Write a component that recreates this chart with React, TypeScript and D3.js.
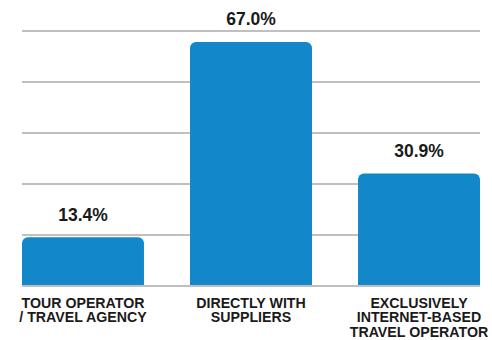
import React from "react";
import * as d3 from "d3";

const categories = ["TOUR OPERATOR\n/ TRAVEL AGENCY", "DIRECTLY WITH\nSUPPLIERS", "EXCLUSIVELY\nINTERNET-BASED\nTRAVEL OPERATOR"];
const values = [13.4, 67.0, 30.9];
const gridTicks = [0, 14, 28, 42, 56, 70];

const W = 492, H = 340;
const left = 22, right = 480, top = 31, bottom = 286;
const barColor = "#1287c9";

function topRoundedRect(x: number, y: number, w: number, h: number, r: number) {
  const p = d3.path();
  p.moveTo(x, y + h);
  p.lineTo(x, y + r);
  p.arcTo(x, y, x + r, y, r);
  p.lineTo(x + w - r, y);
  p.arcTo(x + w, y, x + w, y + r, r);
  p.lineTo(x + w, y + h);
  p.closePath();
  return p.toString();
}

export default function App() {
  const x = d3.scaleBand<string>().domain(categories).range([left, right]).paddingInner(0.274).paddingOuter(0);
  const y = d3.scaleLinear().domain([0, 70]).range([bottom, top]);
  return (
    <svg width={W} height={H} style={{ position: "absolute", left: 0, top: 0, display: "block" }}
      fontFamily="'Liberation Sans', Arial, sans-serif">
      {gridTicks.map((t) => (
        <line key={t} x1={left} x2={right} y1={y(t)} y2={y(t)} stroke="#c0c0c0" strokeWidth={2} />
      ))}
      {categories.map((c, i) => {
        const bx = x(c)!;
        const bw = x.bandwidth();
        const by = y(values[i]);
        return (
          <g key={c}>
            <path d={topRoundedRect(bx, by, bw, bottom - 1 - by, 6)} fill={barColor} />
            <text x={bx + bw / 2} y={by - 16.5} textAnchor="middle" fontSize={17.5} fontWeight="bold" fill="#1a1a1a">
              {values[i].toFixed(1) + "%"}
            </text>
            <text x={bx + bw / 2} y={307.5} textAnchor="middle" fontSize={14.2} fontWeight="bold" fill="#1a1a1a">
              {c.split("\n").map((line, j) => (
                <tspan key={j} x={bx + bw / 2} dy={j === 0 ? 0 : 14.7}>{line}</tspan>
              ))}
            </text>
          </g>
        );
      })}
    </svg>
  );
}
